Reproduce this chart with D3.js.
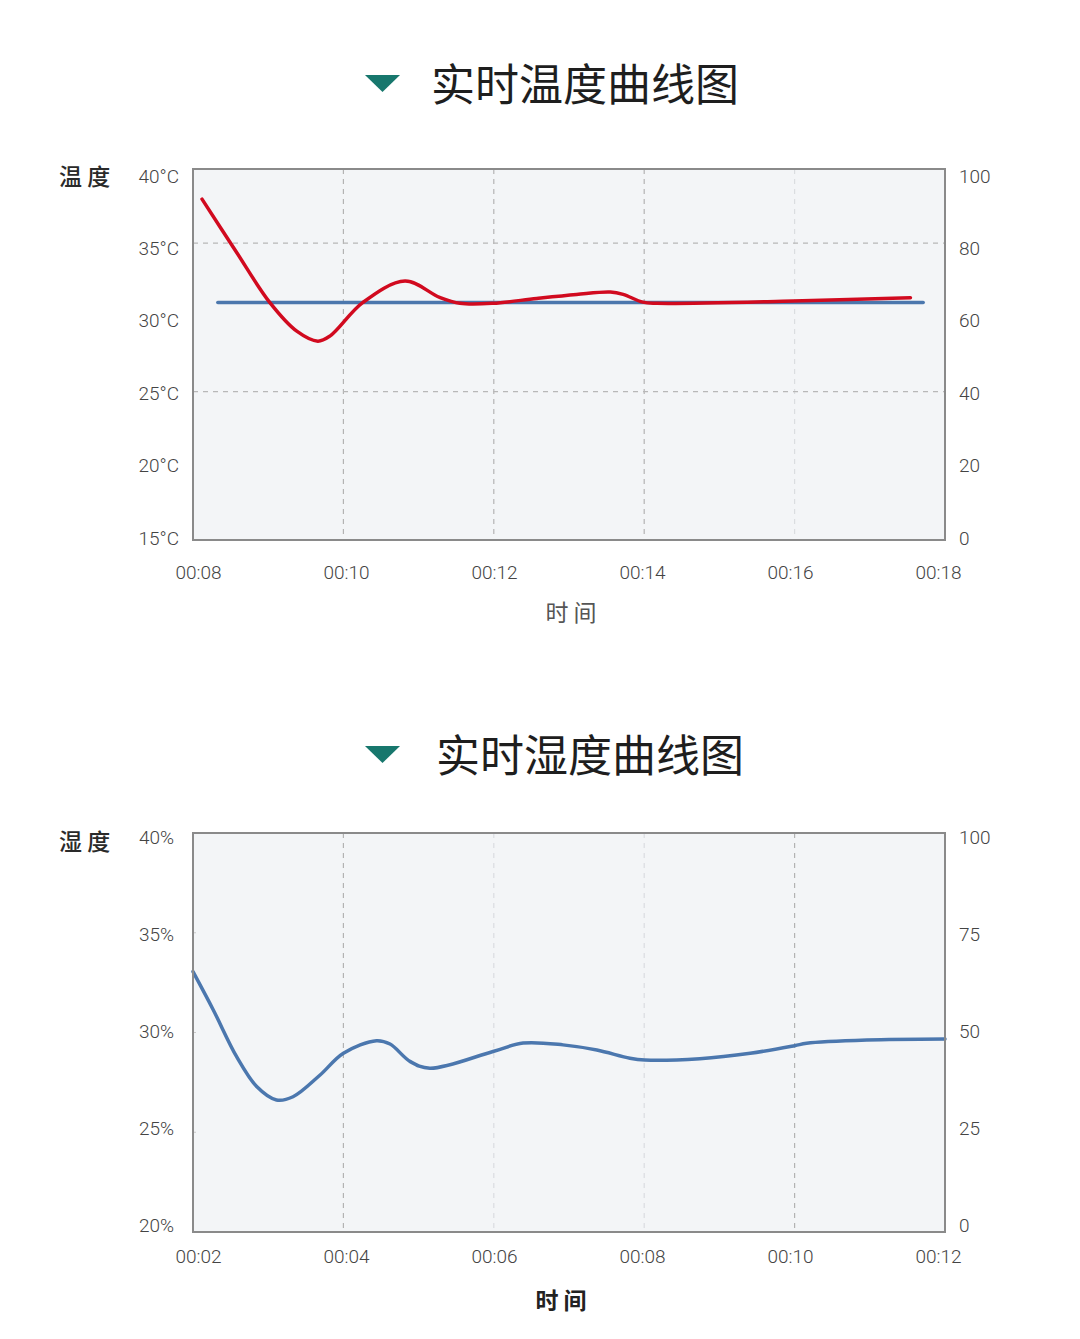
<!DOCTYPE html>
<html><head><meta charset="utf-8">
<script src="https://cdn.jsdelivr.net/npm/d3@7"></script>
<style>
html,body{margin:0;padding:0;background:#fff;}
svg{display:block;}
.tick text{font-family:Roboto,"Noto Sans",sans-serif;font-weight:300;}
</style></head>
<body>
<svg id="chart" width="1080" height="1339"></svg>
<script>
// ---------- Data ----------
// Chart 1: temperature (time in minutes)
const tempTitle = "实时温度曲线图";
const tempTimes  = [8.12, 8.57, 9.02, 9.38, 9.66, 9.82, 10.26, 10.82, 11.28, 11.55, 11.99, 12.57, 13.10, 13.55, 13.72, 13.98, 14.17, 15.98, 17.54];
const tempValues = [37.97, 34.46, 31.01, 29.07, 28.40, 28.74, 31.01, 32.45, 31.35, 30.95, 30.95, 31.28, 31.55, 31.71, 31.55, 31.03, 30.95, 31.10, 31.33];
const setTimes   = [8.33, 17.71];
const setValues  = [31, 31];
const tempXTicks = [8, 10, 12, 14, 16, 18];
const tempXTickLabels = ["00:08", "00:10", "00:12", "00:14", "00:16", "00:18"];
const tempYTicks = [15, 20, 25, 30, 35, 40];
const tempYTickLabels = ["15°C", "20°C", "25°C", "30°C", "35°C", "40°C"];
const tempRightTicks = [0, 20, 40, 60, 80, 100];

// Chart 2: humidity
const humTitle = "实时湿度曲线图";
const humTimes  = [2.00, 2.27, 2.58, 2.85, 3.11, 3.33, 3.69, 4.00, 4.44, 4.62, 4.89, 5.15, 5.99, 6.39, 6.92, 7.37, 7.81, 8.01, 8.74, 9.41, 10.00, 10.16, 10.96, 12.00];
const humValues = [33.05, 31.13, 28.79, 27.28, 26.62, 26.78, 27.87, 28.96, 29.59, 29.42, 28.54, 28.21, 29.05, 29.47, 29.38, 29.12, 28.71, 28.62, 28.69, 28.96, 29.34, 29.46, 29.62, 29.67];
const humXTicks = [2, 4, 6, 8, 10, 12];
const humXTickLabels = ["00:02", "00:04", "00:06", "00:08", "00:10", "00:12"];
const humYTicks = [20, 25, 30, 35, 40];
const humYTickLabels = ["20%", "25%", "30%", "35%", "40%"];
const humRightTicks = [0, 25, 50, 75, 100];

// ---------- Drawing ----------
const svg = d3.select("#chart");
const TEAL = "#17776d";

function title(text, cy, tx) {
  svg.append("path")
    .attr("d", d3.line()([[365, cy - 7], [400, cy - 7], [382.5, cy + 10]]) + "Z")
    .attr("fill", TEAL);
  svg.append("text").attr("x", tx).attr("y", cy)
    .attr("dominant-baseline", "central")
    .attr("font-family", '"Noto Sans CJK SC", sans-serif')
    .attr("font-weight", 400)
    .attr("font-size", 44).attr("fill", "#1e1e1e").text(text);
}

function chart(cfg) {
  const {x0, x1, y0, y1} = cfg; // box
  const x = d3.scaleLinear().domain(cfg.xDomain).range([x0, x1]);
  const y = d3.scaleLinear().domain(cfg.yDomain).range([y1, y0]);
  // label scales (labels in reference are slightly offset from tick positions)
  const xL = d3.scaleLinear().domain(cfg.xDomain).range(cfg.xLabelRange);
  const yL = d3.scaleLinear().domain(cfg.yDomain).range(cfg.yLabelRange);
  const yRL = d3.scaleLinear().domain([0, 100]).range(cfg.yLabelRange);

  const g = svg.append("g");
  g.append("rect").attr("x", x0).attr("y", y0).attr("width", x1 - x0).attr("height", y1 - y0)
    .attr("fill", "#f3f5f7");

  // vertical grid
  cfg.xTicks.slice(1, -1).forEach((t, i) => {
    g.append("line").attr("x1", x(t)).attr("x2", x(t)).attr("y1", y0).attr("y2", y1)
      .attr("stroke", cfg.vStrong[i] ? "#b3b3b3" : "#dadde0")
      .attr("stroke-width", 1.2).attr("stroke-dasharray", "5,5");
  });
  // horizontal grid
  cfg.hGrid.forEach(v => {
    g.append("line").attr("x1", x0).attr("x2", x1).attr("y1", y(v)).attr("y2", y(v))
      .attr("stroke", "#b8b8b8").attr("stroke-width", 1.2).attr("stroke-dasharray", "5,5");
  });
  // small left ticks
  if (cfg.leftTicks) {
    cfg.yTicks.slice(1, -1).forEach(v => {
      g.append("line").attr("x1", x0).attr("x2", x0 + 3).attr("y1", y(v)).attr("y2", y(v))
        .attr("stroke", "#c8c8c8").attr("stroke-width", 1);
    });
  }

  // lines
  cfg.series.forEach(s => {
    const pts = s.t.map((t, i) => [t, s.v[i]]);
    g.append("path").datum(pts)
      .attr("fill", "none").attr("stroke", s.color).attr("stroke-width", 3.5)
      .attr("stroke-linecap", "round").attr("stroke-linejoin", "round")
      .attr("d", d3.line().x(d => x(d[0])).y(d => y(d[1])).curve(d3.curveCatmullRom.alpha(0.5)));
  });

  // border
  g.append("rect").attr("x", x0).attr("y", y0).attr("width", x1 - x0).attr("height", y1 - y0)
    .attr("fill", "none").attr("stroke", "#8a8a8a").attr("stroke-width", 2);

  // axes (labels only)
  const ax = g.append("g").attr("transform", `translate(0,${cfg.xLabelY})`)
    .call(d3.axisBottom(xL).tickValues(cfg.xTicks).tickFormat((d, i) => cfg.xTickLabels[i]).tickSize(0).tickPadding(0));
  ax.select(".domain").remove();
  ax.selectAll("text").attr("dy", "0.35em").attr("y", 0).attr("font-size", 19).attr("fill", "#444");

  const ay = g.append("g").attr("transform", `translate(${cfg.yLabelX},0)`)
    .call(d3.axisLeft(yL).tickValues(cfg.yTicks).tickFormat((d, i) => cfg.yTickLabels[i]).tickSize(0).tickPadding(0));
  ay.select(".domain").remove();
  ay.selectAll("text").attr("font-size", 19).attr("fill", "#444");

  const ar = g.append("g").attr("transform", `translate(${cfg.yRLabelX},0)`)
    .call(d3.axisRight(yRL).tickValues(cfg.rightTicks).tickSize(0).tickPadding(0));
  ar.select(".domain").remove();
  ar.selectAll("text").attr("font-size", 19).attr("fill", "#444");

  // axis titles
  g.append("text").attr("x", 59).attr("y", cfg.yTitleY).attr("dominant-baseline", "central")
    .attr("font-family", '"Noto Sans CJK SC", sans-serif').attr("font-weight", 500)
    .attr("font-size", 23).attr("fill", "#2a2a2a").text(cfg.yTitle);
  g.append("text").attr("x", cfg.xTitleX).attr("y", cfg.xTitleY).attr("dominant-baseline", "central")
    .attr("text-anchor", "middle")
    .attr("font-family", '"Noto Sans CJK SC", sans-serif').attr("font-weight", cfg.xTitleWeight)
    .attr("font-size", 23).attr("fill", cfg.xTitleColor).text("时 间");
}

title(tempTitle, 82, 431);
chart({
  x0: 193, x1: 945, y0: 169, y1: 540,
  xDomain: [8, 18], yDomain: [15, 40],
  xLabelRange: [198, 938], yLabelRange: [538, 176],
  xLabelY: 572, yLabelX: 179, yRLabelX: 959,
  xTicks: tempXTicks, xTickLabels: tempXTickLabels,
  yTicks: tempYTicks, yTickLabels: tempYTickLabels, rightTicks: tempRightTicks,
  vStrong: [true, true, true, false], hGrid: [35, 25], leftTicks: false,
  series: [
    {t: setTimes, v: setValues, color: "#4b77ad"},
    {t: tempTimes, v: tempValues, color: "#d10a1f"}
  ],
  yTitle: "温 度", yTitleY: 175,
  xTitleX: 571, xTitleY: 611, xTitleWeight: 400, xTitleColor: "#555"
});

title(humTitle, 753, 436);
chart({
  x0: 193, x1: 945, y0: 833, y1: 1232,
  xDomain: [2, 12], yDomain: [20, 40],
  xLabelRange: [198, 938], yLabelRange: [1225, 837],
  xLabelY: 1256, yLabelX: 174, yRLabelX: 959,
  xTicks: humXTicks, xTickLabels: humXTickLabels,
  yTicks: humYTicks, yTickLabels: humYTickLabels, rightTicks: humRightTicks,
  vStrong: [true, false, false, true], hGrid: [], leftTicks: true,
  series: [
    {t: humTimes, v: humValues, color: "#4b77ae"}
  ],
  yTitle: "湿 度", yTitleY: 840,
  xTitleX: 561, xTitleY: 1299, xTitleWeight: 700, xTitleColor: "#222"
});
</script>
</body></html>
